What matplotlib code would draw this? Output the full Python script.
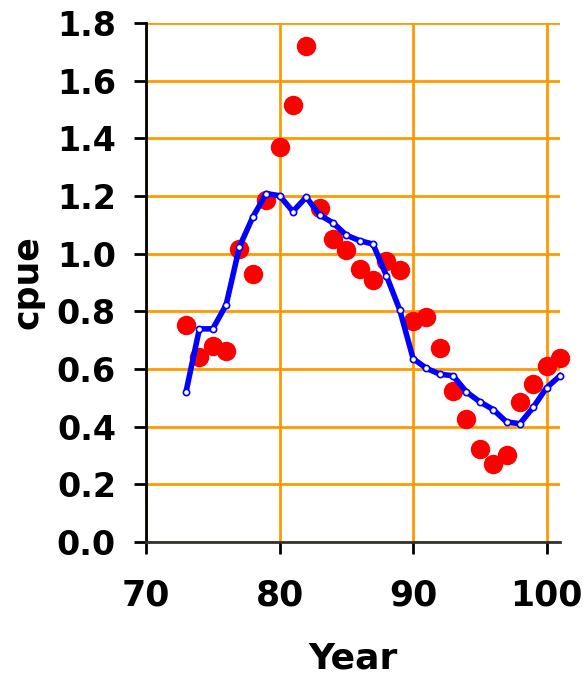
import matplotlib
matplotlib.use("Agg")
import matplotlib.pyplot as plt

# observed cpue (red dots)
years = list(range(73, 102))
cpue_obs = [0.753, 0.642, 0.68, 0.662, 1.016, 0.93, 1.186, 1.37, 1.516, 1.72,
            1.158, 1.05, 1.013, 0.947, 0.909, 0.975, 0.943, 0.767, 0.78, 0.673,
            0.524, 0.427, 0.323, 0.27, 0.302, 0.486, 0.548, 0.61, 0.638]
# fitted cpue (blue line)
cpue_fit = [0.521, 0.739, 0.739, 0.822, 1.024, 1.127, 1.208, 1.201, 1.146, 1.196,
            1.134, 1.107, 1.064, 1.045, 1.033, 0.924, 0.805, 0.636, 0.602, 0.582,
            0.576, 0.52, 0.486, 0.459, 0.416, 0.41, 0.467, 0.535, 0.576]

xticks = [70, 80, 90, 100]
yticks = [0.0, 0.2, 0.4, 0.6, 0.8, 1.0, 1.2, 1.4, 1.6, 1.8]

fig = plt.figure(figsize=(5.83, 6.74), dpi=100)
ax = fig.add_axes([0.2504, 0.196, 0.7101, 0.7699])

grid_col = '#ff9900'
ax.plot(years, cpue_obs, 'o', color='red', markersize=14, markeredgewidth=0,
        zorder=3, clip_on=False)
ax.plot(years, cpue_fit, '-', color='#0000ff', linewidth=4, zorder=4,
        marker='o', markersize=4.5, markerfacecolor='white', markeredgecolor='#0000ff',
        markeredgewidth=1.2, clip_on=False)

ax.set_xlim(70, 101.0)
ax.set_ylim(0, 1.8)
ax.set_xticks(xticks)
ax.set_yticks(yticks)
ax.set_yticklabels(['%.1f' % v for v in yticks])
ax.grid(True, color=grid_col, linewidth=2)
ax.set_axisbelow(True)

ax.spines['top'].set_visible(False)
ax.spines['right'].set_visible(False)
ax.spines['left'].set_linewidth(2)
ax.spines['bottom'].set_linewidth(2)
ax.spines['bottom'].set_color('#333333')

ax.tick_params(axis='x', direction='out', length=8.6, width=2, pad=17.5, labelsize=25)
ax.tick_params(axis='y', direction='out', length=8.6, width=2, pad=13, labelsize=24)
for lab in ax.get_xticklabels() + ax.get_yticklabels():
    lab.set_fontweight('bold')

ax.set_xlabel('Year', fontsize=26, fontweight='bold', labelpad=21)
ax.set_ylabel('cpue', fontsize=25, fontweight='bold', labelpad=9)

fig.savefig('out.png', dpi=100)
